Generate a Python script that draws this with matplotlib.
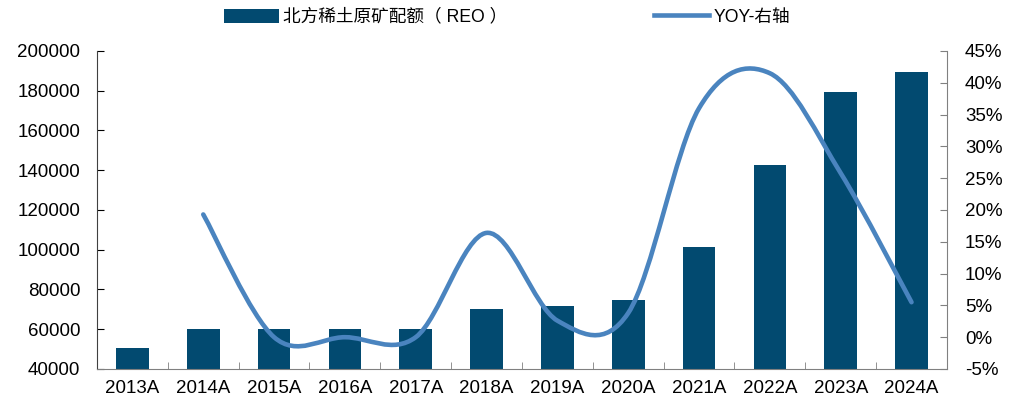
import numpy as np
import matplotlib.pyplot as plt
from matplotlib.path import Path
from matplotlib.patches import PathPatch
from matplotlib.lines import Line2D
from matplotlib.patches import Patch
from matplotlib.ticker import FuncFormatter

plt.rcParams['font.family'] = ['Liberation Sans', 'Noto Sans CJK SC', 'DejaVu Sans']

# data
years = ['2013A', '2014A', '2015A', '2016A', '2017A', '2018A',
         '2019A', '2020A', '2021A', '2022A', '2023A', '2024A']
quota = [50800, 60200, 60200, 60200, 60200, 70000,
         71600, 74500, 101200, 142500, 179400, 189500]
yoy_years = years[1:]
yoy = [19.3, 0.0, 0.0, 0.0, 16.4, 2.6, 3.8, 36.0, 41.5, 25.8, 5.5]

bar_color = '#024A70'
line_color = '#4A84BF'
fs = 13.5

fig = plt.figure(figsize=(10.17, 4.05), dpi=100)
ax = fig.add_axes([0.0954, 0.0889, 0.8357, 0.7852])
ax2 = ax.twinx()

x = np.arange(len(years))
ax.bar(x, quota, width=0.46, color=bar_color, zorder=2)
ax.set_xlim(-0.5, len(years) - 0.5)
ax.set_ylim(40000, 200000)
ax.set_yticks(np.arange(40000, 200001, 20000))
ax.set_xticks(x)
ax.set_xticklabels(years)
ax.set_xticks(np.arange(0.5, len(years) - 1, 1.0), minor=True)
ax.tick_params(axis='x', which='major', length=0, pad=8, labelsize=fs)
ax.tick_params(axis='x', which='minor', direction='in', length=5, color='#808080')
ax.tick_params(axis='y', direction='in', length=5, labelsize=fs, pad=12)

# smoothed YOY line (Catmull-Rom style bezier like Excel)
xs = np.arange(1, len(years), dtype=float)
ys = np.array(yoy)
pts = np.column_stack([xs, ys])
verts = [tuple(pts[0])]
codes = [Path.MOVETO]
n = len(pts)
for i in range(n - 1):
    p0 = pts[max(i - 1, 0)]
    p1 = pts[i]
    p2 = pts[i + 1]
    p3 = pts[min(i + 2, n - 1)]
    c1 = p1 + (p2 - p0) / 6.0
    c2 = p2 - (p3 - p1) / 6.0
    verts += [tuple(c1), tuple(c2), tuple(p2)]
    codes += [Path.CURVE4] * 3
ax2.add_patch(PathPatch(Path(verts, codes), facecolor='none', edgecolor=line_color,
                        lw=3.3, capstyle='round', zorder=3))
ax2.set_ylim(-5, 45)
ax2.set_yticks(np.arange(-5, 46, 5))
ax2.yaxis.set_major_formatter(FuncFormatter(lambda v, p: f'{v:.0f}%'))
ax2.tick_params(axis='y', direction='in', length=5, labelsize=fs, pad=13, color='#808080')

for a in (ax, ax2):
    a.spines['top'].set_visible(False)
ax.spines['left'].set_color('#404040')
ax.spines['bottom'].set_color('#808080')
ax.spines['right'].set_visible(False)
ax2.spines['left'].set_visible(False)
ax2.spines['bottom'].set_visible(False)
ax2.spines['right'].set_color('#808080')

handles = [Patch(facecolor=bar_color, edgecolor='none'),
           Line2D([0], [0], color=line_color, lw=3.3)]
labels = ['北方稀土原矿配额（ REO ）', 'YOY-右轴']
fig.legend(handles, labels, loc='upper left', bbox_to_anchor=(0.205, 1.018), ncol=2,
           frameon=False, fontsize=12.7, handlelength=3.1, handleheight=0.85,
           handletextpad=0.25, columnspacing=8.3)

fig.savefig('out.png', dpi=100)
